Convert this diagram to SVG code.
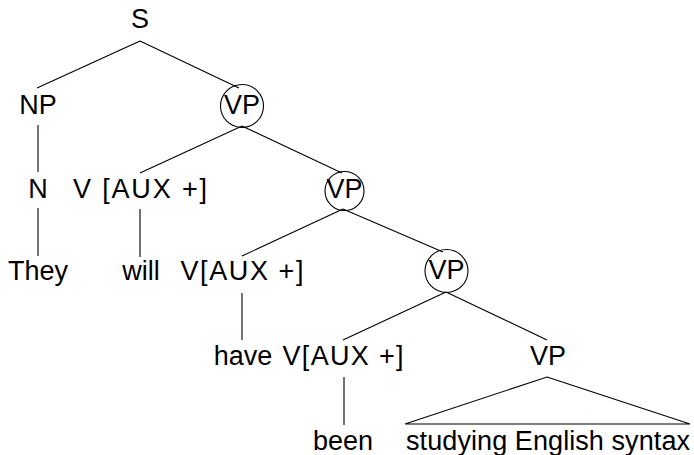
<svg xmlns="http://www.w3.org/2000/svg" width="694" height="455" viewBox="0 0 694 455">
  <style>
    text { font-family: "Liberation Sans", Arial, sans-serif; font-size: 27px; fill: #000; text-anchor: middle; }
    .edge { stroke: #000; stroke-width: 1.1; fill: none; }
    .ring { stroke: #000; stroke-width: 1.1; fill: none; }
  </style>
  <rect width="694" height="455" fill="#fff"/>

  <!-- branches of the tree -->
  <g id="connectors">
    <line class="edge" x1="140" y1="41" x2="37" y2="88"/>
    <line class="edge" x1="140" y1="41" x2="239" y2="88"/>
    <line class="edge" x1="38" y1="125" x2="38" y2="172"/>
    <line class="edge" x1="242" y1="126" x2="140" y2="173"/>
    <line class="edge" x1="242" y1="126" x2="342" y2="173"/>
    <line class="edge" x1="38" y1="208" x2="38" y2="256"/>
    <line class="edge" x1="140" y1="209" x2="140" y2="257"/>
    <line class="edge" x1="343" y1="209" x2="242" y2="256"/>
    <line class="edge" x1="343" y1="209" x2="443" y2="252"/>
    <line class="edge" x1="242" y1="293" x2="242" y2="340"/>
    <line class="edge" x1="446" y1="292" x2="343" y2="340"/>
    <line class="edge" x1="446" y1="292" x2="547" y2="340"/>
    <line class="edge" x1="344" y1="377" x2="344" y2="425"/>
    <!-- collapsed constituent -->
    <polygon class="edge" points="547,377 690,424 405,424"/>
  </g>

  <g id="n-S"><text x="140" y="28">S</text></g>
  <g id="n-NP"><text x="38" y="114">NP</text></g>
  <g id="n-VP1">
    <circle class="ring" cx="242" cy="106" r="21.5"/>
    <text x="242" y="114">VP</text>
  </g>
  <g id="n-N"><text x="38" y="198">N</text></g>
  <g id="n-Vaux1"><text x="140" y="198" textLength="134">V [AUX +]</text></g>
  <g id="n-VP2">
    <circle class="ring" cx="344.5" cy="191" r="19.5"/>
    <text x="344.5" y="198">VP</text>
  </g>
  <g id="n-They"><text x="38" y="280">They</text></g>
  <g id="n-will"><text x="141" y="280">will</text></g>
  <g id="n-Vaux2"><text x="242" y="280" textLength="123">V[AUX +]</text></g>
  <g id="n-VP3">
    <circle class="ring" cx="446.5" cy="271" r="21.5"/>
    <text x="446.5" y="279">VP</text>
  </g>
  <g id="n-have"><text x="243" y="365">have</text></g>
  <g id="n-Vaux3"><text x="343" y="365" textLength="121">V[AUX +]</text></g>
  <g id="n-VP4"><text x="548" y="365">VP</text></g>
  <g id="n-been"><text x="343" y="450">been</text></g>
  <g id="n-phrase"><text x="548" y="450" textLength="284">studying English syntax</text></g>
</svg>
